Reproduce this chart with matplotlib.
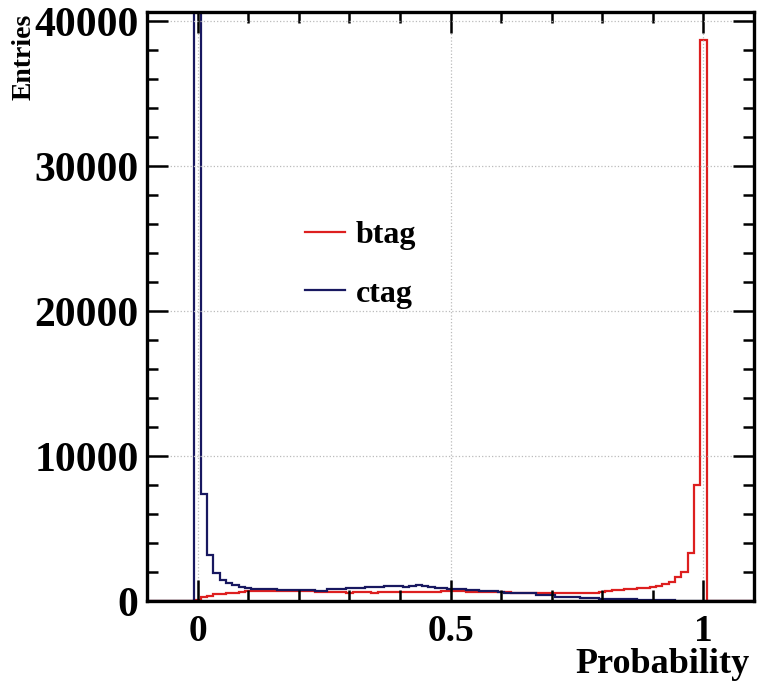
import numpy as np
import matplotlib
matplotlib.use('Agg')
import matplotlib.pyplot as plt
from matplotlib.ticker import MultipleLocator

plt.rcParams['font.family'] = ['Liberation Serif', 'DejaVu Serif']
plt.rcParams['font.weight'] = 'bold'

# bin width and per-bin counts for probability bins centred on 0, 0.0125, ..., 1.0
bin_width = 0.0125
btag = [
    100, 250, 350, 480, 510, 530, 540, 620, 690, 710,
    680, 700, 660, 690, 720, 700, 710, 720, 690, 600,
    610, 600, 640, 650, 580, 590, 640, 650, 580, 640,
    650, 640, 600, 610, 640, 650, 640, 650, 640, 660,
    710, 700, 720, 650, 640, 600, 590, 600, 640, 630,
    580, 560, 570, 540, 520, 530, 520, 530, 520, 540,
    530, 540, 550, 560, 640, 660, 760, 770, 800, 820,
    870, 900, 950, 1035, 1170, 1330, 1635, 2020, 3290, 7980,
    38700,
]
ctag = [
    41500, 7380, 3170, 1950, 1450, 1270, 1100, 990, 900, 860,
    830, 810, 800, 780, 790, 770, 760, 750, 760, 720,
    710, 820, 830, 830, 870, 880, 880, 980, 990, 990,
    1050, 1010, 1020, 1000, 1010, 1080, 1070, 990, 920, 910,
    830, 820, 820, 760, 750, 670, 660, 670, 600, 540,
    530, 520, 530, 520, 420, 410, 400, 300, 300, 290,
    300, 230, 230, 220, 140, 140, 130, 115, 110, 110,
    100, 100, 100, 90, 80, 40, 30, 20, 15, 10,
    5,
]
labels = ['btag', 'ctag']
colors = ['#dd1f1f', '#181860']

# pad with empty bins so the histogram spans the full axis range like ROOT
pad = 8
n = len(btag)
edges = (np.arange(-pad, n + pad + 1) - 0.5) * bin_width

fig = plt.figure(figsize=(7.59, 6.84), dpi=100)
ax = fig.add_axes([0.1937, 0.1213, 0.7997, 0.8612])

for vals, lab, col in zip([btag, ctag], labels, colors):
    full = np.concatenate([np.zeros(pad), vals, np.zeros(pad)])
    ax.stairs(full, edges, color=col, lw=1.6, label=lab)

ax.set_xlim(-0.1, 1.1)
ax.set_ylim(0, 1.05 * max(btag))

ax.xaxis.set_major_locator(MultipleLocator(0.5))
ax.xaxis.set_minor_locator(MultipleLocator(0.1))
ax.yaxis.set_major_locator(MultipleLocator(10000))
ax.yaxis.set_minor_locator(MultipleLocator(2000))
ax.set_xticks([0, 0.5, 1])
ax.set_xticklabels(['0', '0.5', '1'])

ax.tick_params(which='both', direction='in', top=True, right=True, width=1.8)
ax.tick_params(which='major', length=15)
ax.tick_params(which='minor', length=8)
ax.tick_params(axis='x', labelsize=27, pad=9)
ax.tick_params(axis='y', labelsize=30, pad=6)
for s in ax.spines.values():
    s.set_linewidth(2.4)

ax.grid(True, which='major', color='#bbbbbb', ls=':', lw=0.9)

ax.set_xlabel('Probability', fontsize=26, fontweight='bold', ha='right')
ax.xaxis.set_label_coords(0.993, -0.107)
ax.xaxis.label.set_va('center')
ax.set_ylabel('Entries', fontsize=20, fontweight='bold', ha='right')
ax.yaxis.set_label_coords(-0.203, 0.997)
ax.yaxis.label.set_va('center')

leg = ax.legend(loc='upper left', bbox_to_anchor=(0.26, 0.645), frameon=False,
                fontsize=23, handlelength=1.25, handletextpad=0.35,
                labelspacing=0.9, borderpad=0, borderaxespad=0)

fig.savefig('out.png', dpi=100)
